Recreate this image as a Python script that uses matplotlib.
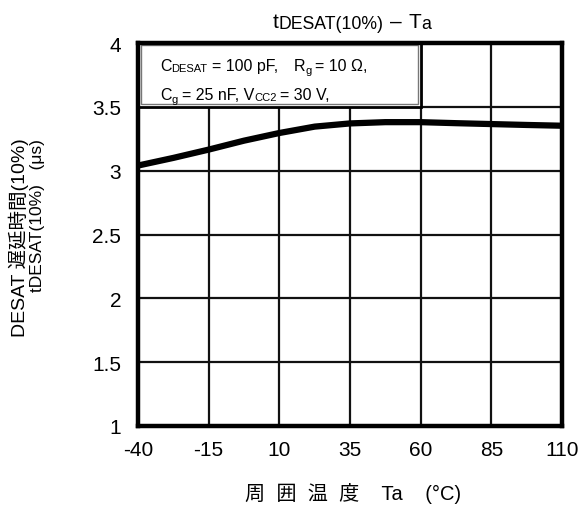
import matplotlib
matplotlib.use("Agg")
import matplotlib.pyplot as plt
from matplotlib.patches import Rectangle

plt.rcParams['font.family'] = ['Liberation Sans', 'Noto Sans CJK JP', 'DejaVu Sans']
plt.rcParams['axes.unicode_minus'] = False

# Data
temps = [-40, -27.5, -15, -2.5, 10, 22.5, 35, 47.5, 60, 72.5, 85, 97.5, 110]
delay = [3.04, 3.10, 3.165, 3.235, 3.295, 3.345, 3.370, 3.380, 3.380, 3.372, 3.365, 3.358, 3.352]
x_ticks = [-40, -15, 10, 35, 60, 85, 110]
y_ticks = [1, 1.5, 2, 2.5, 3, 3.5, 4]
y_tick_labels = ['1', '1.5', '2', '2.5', '3', '3.5', '4']

W, H = 587, 510
fig = plt.figure(figsize=(W / 100, H / 100), dpi=100)
ax = fig.add_axes([138 / W, 1 - 427 / H, (562 - 138) / W, (427 - 44) / H])

ax.set_xlim(-40, 110)
ax.set_ylim(1, 4)
ax.set_xticks(x_ticks)
ax.set_yticks(y_ticks)
ax.set_yticklabels(y_tick_labels)
ax.tick_params(length=0, labelsize=15, pad=12)
ax.tick_params(axis='x', pad=10)
ax.grid(True, color='#111111', linewidth=1.6, zorder=1)
ax.set_axisbelow(True)
for s in ax.spines.values():
    s.set_linewidth(3.2)
    s.set_zorder(6)

# Condition box
ax.add_patch(Rectangle((-40, 3.5), 100, 0.5, facecolor='white', edgecolor='black',
                       linewidth=2.0, zorder=3))
ax.add_patch(Rectangle((-40 + 1.1, 3.5 + 0.022), 100 - 2.0, 0.5 - 0.04, facecolor='none',
                       edgecolor='#777777', linewidth=1.0, zorder=3.5))

ax.plot(temps, delay, color='black', linewidth=4.5, solid_capstyle='butt', zorder=5)

renderer = fig.canvas.get_renderer()


def pieces_text(x0, y0, pieces, center=False, zorder=7):
    """pieces: (text, size, dy_px, gap_after_px)"""
    texts = []
    x = x0
    for s, size, dy, gap in pieces:
        t = fig.text(x / W, 1 - (y0 + dy) / H, s, fontsize=size, ha='left',
                     va='baseline', zorder=zorder)
        bb = t.get_window_extent(renderer)
        texts.append((t, x))
        x += bb.width + gap
    if center:
        total = x - x0
        shift = -total / 2
        for t, xx in texts:
            t.set_x((xx + shift) / W)
    return x


# Box texts
pieces_text(160, 71, [("C", 11.5, 0, 0), ("DESAT", 8, 1, 4), ("= 100 pF,", 11.5, 0, 16),
                      ("R", 11.5, 0, 0), ("g", 8, 3, 4), ("= 10 Ω,", 11.5, 0, 0)])
pieces_text(160, 100, [("C", 11.5, 0, 0), ("g", 8, 3, 4), ("= 25 nF, V", 11.5, 0, 0),
                       ("CC2", 8, 1, 4), ("= 30 V,", 11.5, 0, 0)])

# Title
pieces_text(352, 28, [("t", 15, 0, 0), ("DESAT(10%)", 12.7, 1, 6), ("–", 15, 0, 7),
                      ("T", 15, 0, 0), ("a", 12.7, 1, 0)], center=True)

# Y label (two lines)
fig.text(19 / W, 1 - 238 / H, 'DESAT 遅延時間(10%)', rotation=90, fontsize=14,
         ha='center', va='center')
fig.text(38 / W, 1 - 216 / H, 'tDESAT(10%)   (μs)', rotation=90, fontsize=12.5,
         ha='center', va='center')

# X label
fig.text(353 / W, 1 - 494 / H, '周  囲  温  度    Ta    (°C)', fontsize=14.5,
         ha='center', va='center')

fig.savefig('out.png', dpi=100)
